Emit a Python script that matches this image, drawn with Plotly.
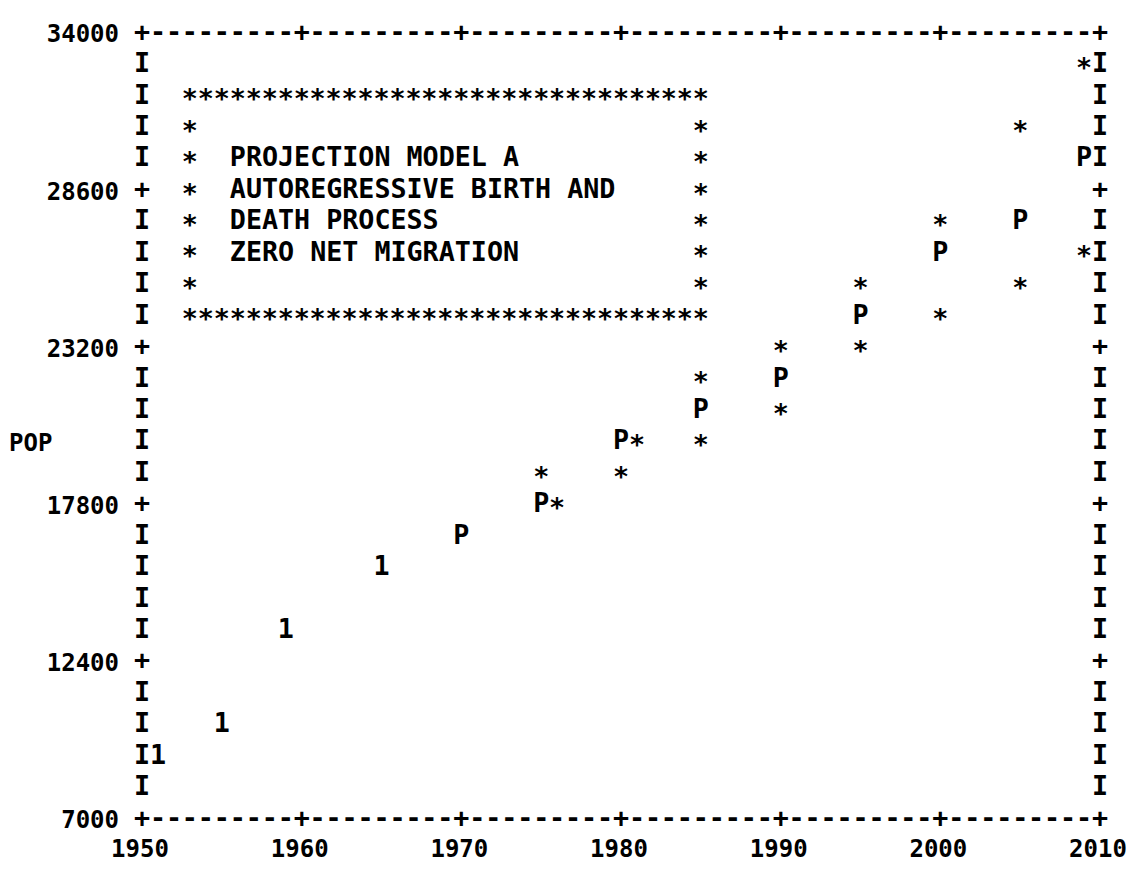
import plotly.graph_objects as go

# ---------------- data ----------------
hist_years = [1951, 1955, 1959, 1965]
hist_pop = [9160, 10240, 13480, 15640]

proj_years = [1970, 1975, 1980, 1985, 1990, 1995, 2000, 2005, 2010]
proj_pop = [16720, 17800, 19960, 21040, 22120, 24280, 26440, 27520, 29680]

band_years = [1975, 1980, 1985, 1990, 1995, 2000, 2005, 2010]
upper_pop = [18880, 19960, 22120, 23200, 25360, 27520, 30760, 32920]
lower_pop = [17800, 18880, 19960, 21040, 23200, 24280, 25360, 26440]

x_ticks = [1950, 1960, 1970, 1980, 1990, 2000, 2010]
y_ticks = [7000, 12400, 17800, 23200, 28600, 34000]
y_label = "POP"
legend_lines = ["PROJECTION MODEL A", "AUTOREGRESSIVE BIRTH AND",
                "DEATH PROCESS", "ZERO NET MIGRATION"]

# ---------------- line-printer grid ----------------
X0, X1 = x_ticks[0], x_ticks[-1]
Y0, Y1 = y_ticks[0], y_ticks[-1]
NCOL = 60                      # one print column per year
NROW = 25                      # five print lines per y tick interval
DX = (X1 - X0) / NCOL
DY = (Y1 - Y0) / NROW

FONT = "DejaVu Sans Mono"
FSIZE = 26.7                   # advance = one print column
TICKSIZE = 24
INK = "#000000"
STAR_DROP = 0.15               # asterisk glyph sits high in the font

def cx(col):
    return X0 + col * DX

def cy(row):                   # row counted from the top line
    return Y1 - row * DY

cells = {}                     # (col,row) -> char, the printed page

def put(col, row, ch, group):
    key = (col, row)
    if key in cells:
        col2 = col + 1
        if col2 > NCOL - 1 or (col2, row) in cells:
            col2 = col - 1
        key = (col2, row)
    cells[key] = (ch, group)

# frame
for r in range(NROW + 1):
    for c in range(NCOL + 1):
        if r in (0, NROW):
            put(c, r, "+" if c % 10 == 0 else "-", "frame")
        elif c in (0, NCOL):
            put(c, r, "+" if r % 5 == 0 else "I", "frame")

# legend box
BOX_C0, BOX_C1, BOX_R0, BOX_R1 = 3, 35, 2, 9
for c in range(BOX_C0, BOX_C1 + 1):
    put(c, BOX_R0, "*", "box")
    put(c, BOX_R1, "*", "box")
for r in range(BOX_R0 + 1, BOX_R1):
    put(BOX_C0, r, "*", "box")
    put(BOX_C1, r, "*", "box")
TEXT_C0 = BOX_C0 + 3
for i, line in enumerate(legend_lines):
    for k in range(len(line)):
        cells[(TEXT_C0 + k, BOX_R0 + 2 + i)] = (None, "text")

# data
def plot_series(years, values, ch, group):
    for yr, v in zip(years, values):
        c = int(round((yr - X0) / DX))
        r = int(round((Y1 - v) / DY))
        put(c, r, ch, group)

plot_series(hist_years, hist_pop, "1", "hist")
plot_series(proj_years, proj_pop, "P", "proj")
plot_series(band_years, upper_pop, "*", "band")
plot_series(band_years, lower_pop, "*", "band")

fig = go.Figure()
TFONT = dict(family=FONT, size=FSIZE, color=INK, weight="bold")
TICKFONT = dict(family=FONT, size=TICKSIZE, color=INK, weight="bold")

def add_group(group, name):
    xs, ys, ts = [], [], []
    for (c, r), (ch, g) in cells.items():
        if g != group or ch is None:
            continue
        drop = STAR_DROP * DY if ch == "*" else 0
        xs.append(cx(c))
        ys.append(cy(r) - drop)
        ts.append(ch)
    fig.add_trace(go.Scatter(
        x=xs, y=ys, text=ts, mode="text", name=name,
        textposition="middle center", cliponaxis=False,
        textfont=TFONT, hoverinfo="skip", showlegend=False))

add_group("frame", "frame")
add_group("box", "legend box")
add_group("hist", "observed (1)")
add_group("proj", "projection (P)")
add_group("band", "bounds (*)")

# legend text lines
fig.add_trace(go.Scatter(
    x=[cx(TEXT_C0) - DX / 2] * len(legend_lines),
    y=[cy(BOX_R0 + 2 + i) for i in range(len(legend_lines))],
    text=legend_lines, mode="text", textposition="middle right",
    cliponaxis=False, hoverinfo="skip", showlegend=False,
    textfont=TFONT))

# axis label "POP" (printed in the margin, columns -8..-6)
fig.add_annotation(
    x=(cx(-7) - X0) / (X1 - X0), xref="paper",
    y=cy(13), yref="y", text=y_label, showarrow=False,
    xanchor="center", yanchor="middle", font=TICKFONT)

# the page body adds an 8px margin, so the figure is 8px smaller
fig.update_layout(
    width=1131, height=867,
    margin=dict(l=134, r=31, t=14, b=49, pad=0),
    paper_bgcolor="white", plot_bgcolor="white",
    font=dict(family=FONT, size=FSIZE, color=INK),
    xaxis=dict(range=[X0, X1], tickvals=x_ticks,
               ticktext=[str(v) for v in x_ticks],
               showgrid=False, zeroline=False, showline=False,
               ticks="", ticklabelstandoff=12, ticklabelshift=-2,
               fixedrange=True, ticklabeloverflow="allow",
               tickfont=TICKFONT),
    yaxis=dict(range=[Y0, Y1], tickvals=y_ticks,
               ticktext=[str(v) for v in y_ticks],
               showgrid=False, zeroline=False, showline=False,
               ticks="", ticklabelstandoff=22, fixedrange=True,
               ticklabeloverflow="allow", tickfont=TICKFONT),
)

fig.write_html("out.html")
